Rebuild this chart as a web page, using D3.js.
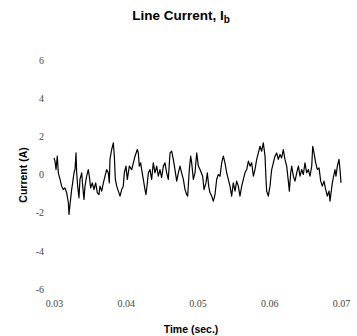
<!DOCTYPE html>
<html><head><meta charset="utf-8">
<script src="https://cdn.jsdelivr.net/npm/d3@7"></script>
<style>body{margin:0;background:#fff}</style>
</head><body>
<svg id="c" width="357" height="336"></svg>
<script>
const xTicks = [0.03, 0.04, 0.05, 0.06, 0.07];
const xTickLabels = ["0.03", "0.04", "0.05", "0.06", "0.07"];
const yTicks = [6, 4, 2, 0, -2, -4, -6];
const time = [
0.03000,0.03014,0.03028,0.03046,0.03060,0.03084,0.03107,0.03130,0.03153,0.03177,
0.03200,0.03209,0.03223,0.03246,0.03260,0.03279,0.03293,0.03307,0.03316,0.03330,
0.03348,0.03362,0.03386,0.03400,0.03418,0.03432,0.03455,0.03478,0.03492,0.03511,
0.03534,0.03557,0.03581,0.03604,0.03627,0.03641,0.03665,0.03688,0.03711,0.03734,
0.03757,0.03771,0.03780,0.03804,0.03827,0.03841,0.03855,0.03874,0.03897,0.03920,
0.03943,0.03966,0.03980,0.04003,0.04022,0.04050,0.04083,0.04106,0.04129,0.04161,
0.04175,0.04189,0.04208,0.04222,0.04245,0.04268,0.04282,0.04301,0.04315,0.04338,
0.04361,0.04384,0.04408,0.04431,0.04454,0.04477,0.04500,0.04524,0.04547,0.04570,
0.04593,0.04617,0.04640,0.04663,0.04686,0.04710,0.04733,0.04756,0.04779,0.04803,
0.04826,0.04849,0.04863,0.04886,0.04905,0.04919,0.04942,0.04965,0.04989,0.05012,
0.05035,0.05072,0.05091,0.05118,0.05137,0.05156,0.05174,0.05198,0.05221,0.05244,
0.05267,0.05290,0.05314,0.05337,0.05360,0.05383,0.05407,0.05430,0.05453,0.05476,
0.05499,0.05523,0.05546,0.05569,0.05592,0.05616,0.05639,0.05662,0.05686,0.05709,
0.05732,0.05755,0.05779,0.05801,0.05825,0.05848,0.05871,0.05894,0.05917,0.05941,
0.05955,0.05964,0.05987,0.06010,0.06034,0.06057,0.06080,0.06103,0.06126,0.06150,
0.06173,0.06196,0.06219,0.06243,0.06266,0.06280,0.06299,0.06313,0.06336,0.06359,
0.06383,0.06406,0.06429,0.06452,0.06475,0.06498,0.06522,0.06545,0.06568,0.06592,
0.06606,0.06624,0.06647,0.06671,0.06694,0.06717,0.06740,0.06763,0.06787,0.06809,
0.06833,0.06847,0.06861,0.06879,0.06893,0.06916,0.06930,0.06949,0.06972,0.06986,
0.07000];
const current = [
0.87,0.70,0.26,0.96,0.09,-0.26,-0.61,-0.79,-0.70,-0.96,
-1.48,-2.09,-1.57,-0.79,-0.44,0.09,0.26,1.13,0.09,-0.61,
-1.22,-0.26,0.09,-0.61,-1.31,-0.61,-0.09,0.26,-0.09,-0.70,
-0.44,-0.79,-0.44,-0.96,-1.05,-0.61,-0.87,-0.44,-0.09,0.26,
0.09,-0.44,0.79,1.31,1.66,0.96,-0.26,-0.61,-0.87,-1.13,
-0.79,-0.61,0.09,0.44,-0.26,0.44,0.26,0.61,0.96,1.31,
1.13,0.44,0.61,0.26,-0.26,-0.79,-1.05,-0.44,0.09,0.26,
-0.26,0.61,0.09,0.44,-0.09,0.26,-0.17,0.44,0.61,0.09,
-0.26,1.13,1.22,0.79,0.26,-0.35,0.09,0.44,0.09,-0.26,
-0.79,-1.05,-1.13,0.26,0.96,0.61,-0.26,0.09,1.13,0.44,
0.26,-0.09,-0.79,-0.44,0.09,-0.61,-0.96,-1.13,-1.40,-1.05,
-0.26,0.00,-0.09,0.61,0.96,0.61,0.09,-0.26,-0.61,-1.13,
-0.44,-0.87,-0.35,-0.61,-1.13,-0.61,-0.26,0.09,0.26,0.70,
0.44,0.61,-0.09,0.26,0.79,1.13,1.48,1.22,1.66,0.96,
-0.26,-0.87,-1.13,-0.61,0.26,0.61,0.96,1.13,0.79,1.05,
0.87,1.31,0.79,0.44,-0.35,-0.87,0.09,0.44,-0.09,-0.35,
0.09,0.44,-0.09,0.26,0.00,0.61,0.09,0.26,-0.09,0.44,
1.48,1.13,0.61,0.26,0.35,-0.35,-0.61,-0.35,-0.79,-1.13,
-0.87,-1.40,-0.96,-0.44,-0.17,0.26,-0.09,0.44,0.79,0.26,
-0.44];

const svg = d3.select("#c");
const x = d3.scaleLinear().domain([0.03, 0.07]).range([54, 341]);
const y = d3.scaleLinear().domain([-6, 6]).range([289, 60]);

const data = time.map((t, i) => ({t, v: current[i]}));

svg.append("path")
  .datum(data)
  .attr("fill", "none")
  .attr("stroke", "#000")
  .attr("stroke-width", 1.2)
  .attr("stroke-linejoin", "round")
  .attr("d", d3.line().x(d => x(d.t)).y(d => y(d.v)));

const yAxis = svg.append("g").attr("transform", "translate(48,0)")
  .call(d3.axisLeft(y).tickValues(yTicks).tickSize(0).tickPadding(4).tickFormat(d => String(d)));
yAxis.select(".domain").remove();
yAxis.selectAll("text").attr("font-family", "Liberation Serif").attr("font-size", 10).attr("fill", "#444");

const xAxis = svg.append("g").attr("transform", "translate(0,296)")
  .call(d3.axisBottom(x).tickValues(xTicks).tickSize(0).tickPadding(4).tickFormat((d, i) => xTickLabels[i]));
xAxis.select(".domain").remove();
xAxis.selectAll("text").attr("font-family", "Liberation Serif").attr("font-size", 10).attr("fill", "#444");

const title = svg.append("text").attr("x", 181).attr("y", 20).attr("text-anchor", "middle")
  .attr("font-family", "Liberation Sans").attr("font-weight", "bold").attr("font-size", 13.5);
title.append("tspan").text("Line Current, I");
title.append("tspan").attr("font-size", 10).attr("dy", 3).text("b");

svg.append("text").attr("x", 191).attr("y", 333).attr("text-anchor", "middle")
  .attr("font-family", "Liberation Sans").attr("font-weight", "bold").attr("font-size", 10.5)
  .text("Time (sec.)");

svg.append("text").attr("transform", "translate(27,175) rotate(-90)").attr("text-anchor", "middle")
  .attr("font-family", "Liberation Sans").attr("font-weight", "bold").attr("font-size", 10.5)
  .text("Current (A)");
</script>
</body></html>
